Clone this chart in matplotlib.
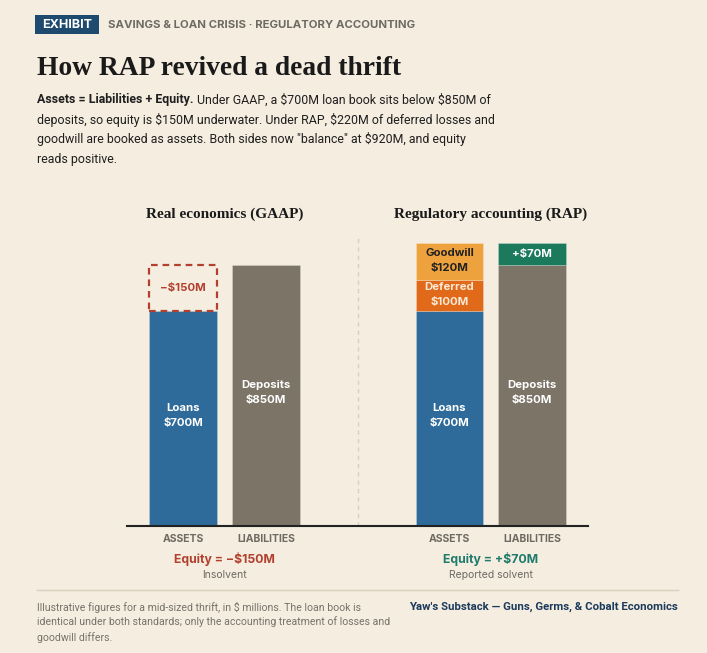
import matplotlib
matplotlib.use("Agg")
import matplotlib.pyplot as plt
from matplotlib.patches import Rectangle

# ---------------- data ----------------
panels = ["Real economics (GAAP)", "Regulatory accounting (RAP)"]
categories = ["ASSETS", "LIABILITIES"]
loans = [700, 700]          # GAAP, RAP
deposits = [850, 850]
deferred_rap = 100
goodwill_rap = 120
equity_values = [-150, 70]
equity_notes = ["Insolvent", "Reported solvent"]

W, H = 707, 653
BG = "#f4ede0"
BLUE = "#2e6b9a"
GRAY = "#7b7467"
ORANGE = "#e06a1a"
GOLD = "#eea23d"
GREEN = "#1b7a5c"
RED = "#b3402e"
SANS = ["Inter", "DejaVu Sans"]
ROBO = ["Roboto", "DejaVu Sans"]
SERIF = ["Liberation Serif", "DejaVu Serif"]

fig = plt.figure(figsize=(W / 100, H / 100), dpi=100, facecolor=BG)

def fx(px):
    return px / W

def fy(py):
    return 1 - py / H

def ftext(x, y, s, **kw):
    return fig.text(fx(x), fy(y), s, parse_math=False, **kw)

# ---------------- header ----------------
fig.patches.append(Rectangle((fx(35), fy(34)), fx(99) - fx(35), fy(15) - fy(34),
                             transform=fig.transFigure, facecolor="#1d4a6e", edgecolor="none"))
ftext(67, 24.5, "EXHIBIT", color="white", fontsize=9, fontweight="bold",
      family=SANS, ha="center", va="center")
ftext(108, 24.5, "SAVINGS & LOAN CRISIS · REGULATORY ACCOUNTING", color="#6e6a62",
      fontsize=8.2, fontweight="bold", family=SANS, ha="left", va="center")
ftext(37, 75, "How RAP revived a dead thrift", color="#1a1a1a", fontsize=19.8,
      fontweight="bold", family=SERIF, ha="left", va="baseline")

sub_lines = [
    "Under GAAP, a $700M loan book sits below $850M of",
    "deposits, so equity is $150M underwater. Under RAP, $220M of deferred losses and",
    "goodwill are booked as assets. Both sides now \"balance\" at $920M, and equity",
    "reads positive.",
]
sub_y = [100, 120, 139.5, 159]
SUBFS = 8.9
bold = ftext(37, sub_y[0], "Assets = Liabilities + Equity.", color="#1f1f1f",
             fontsize=SUBFS, fontweight="bold", family=ROBO, ha="left", va="center")
fig.canvas.draw()
bb = bold.get_window_extent()
ftext(bb.x1 + 3.5, sub_y[0], sub_lines[0], color="#1f1f1f", fontsize=SUBFS,
      family=ROBO, ha="left", va="center")
for line, y in zip(sub_lines[1:], sub_y[1:]):
    ftext(37, y, line, color="#1f1f1f", fontsize=SUBFS, family=ROBO, ha="left", va="center")

# ---------------- chart ----------------
ax = fig.add_axes([fx(127), fy(526), fx(588) - fx(127), fy(236) - fy(526)])
ax.set_facecolor("none")
pos = [[0, 1], [3.22, 4.22]]
bw = 0.82
ax.set_xlim(-0.679, 4.895)
ax.set_ylim(0, 944)

edge = dict(edgecolor="#ffffff40", linewidth=0.6)
# GAAP
ax.bar(pos[0][0], loans[0], bw, color=BLUE, **edge)
ax.bar(pos[0][1], deposits[0], bw, color=GRAY, **edge)
gap = deposits[0] - loans[0]
ax.add_patch(Rectangle((pos[0][0] - bw / 2, loans[0]), bw, gap, facecolor="none",
                       edgecolor=RED, linewidth=1.6, linestyle=(0, (3, 2.2))))
# RAP
ax.bar(pos[1][0], loans[1], bw, color=BLUE, **edge)
ax.bar(pos[1][0], deferred_rap, bw, bottom=loans[1], color=ORANGE, **edge)
ax.bar(pos[1][0], goodwill_rap, bw, bottom=loans[1] + deferred_rap, color=GOLD, **edge)
ax.bar(pos[1][1], deposits[1], bw, color=GRAY, **edge)
ax.bar(pos[1][1], equity_values[1], bw, bottom=deposits[1], color=GREEN, **edge)

def seg_label(x, y0, h, l1, l2, color, dy=0):
    yc = y0 + h / 2
    for s, off in ((l1, 7.5), (l2, -7.5)):
        ax.annotate(s, (x, yc), xytext=(0, off + dy), textcoords="offset pixels", ha="center",
                    va="center", color=color, fontsize=8.2, fontweight="bold", family=SANS,
                    parse_math=False)

for p in range(2):
    seg_label(pos[p][0], 0, loans[p], "Loans", f"${loans[p]}M", "white", dy=3)
    seg_label(pos[p][1], 0, deposits[p], "Deposits", f"${deposits[p]}M", "white", dy=3)
seg_label(pos[1][0], loans[1], deferred_rap, "Deferred", f"${deferred_rap}M", "#fbe9d6", dy=1)
seg_label(pos[1][0], loans[1] + deferred_rap, goodwill_rap, "Goodwill", f"${goodwill_rap}M",
          "#222222", dy=1)
ax.text(pos[1][1], deposits[1] + equity_values[1] / 2, f"+${equity_values[1]}M", ha="center",
        va="center", color="white", fontsize=8.2, fontweight="bold", family=SANS,
        parse_math=False)
ax.text(pos[0][0], loans[0] + gap / 2, f"\u2212${abs(equity_values[0])}M", ha="center",
        va="center", color=RED, fontsize=8.2, fontweight="bold", family=SANS, parse_math=False)

# divider
ax.plot([2.11, 2.11], [0, 938], color="#d9d0c0", linewidth=1, linestyle=(0, (3, 3)))

for s in ["top", "right", "left"]:
    ax.spines[s].set_visible(False)
ax.spines["bottom"].set_color("#222222")
ax.spines["bottom"].set_linewidth(1.5)
ax.set_yticks([])
ax.set_xticks(pos[0] + pos[1])
ax.set_xticklabels(categories * 2, fontsize=7.5, fontweight="bold", color="#6e6a62",
                   family=SANS)
ax.tick_params(axis="x", length=0, pad=6)

centers = [0.5, 3.72]
eq_colors = [RED, "#1e7a6a"]
for i in range(2):
    ax.annotate(panels[i], (centers[i], fy(214)), xycoords=("data", "figure fraction"),
                ha="center", va="center", fontsize=11, fontweight="bold", family=SERIF,
                color="#1a1a1a")
    v = equity_values[i]
    sign = "\u2212" if v < 0 else "+"
    ax.annotate(f"Equity = {sign}${abs(v)}M", (centers[i], fy(559)),
                xycoords=("data", "figure fraction"), ha="center", va="center",
                fontsize=8.8, fontweight="bold", family=SANS, color=eq_colors[i],
                parse_math=False)
    ax.annotate(equity_notes[i], (centers[i], fy(574.5)), xycoords=("data", "figure fraction"),
                ha="center", va="center", fontsize=7.5, family=SANS, color="#6e6a62")

# ---------------- footer ----------------
fig.add_artist(plt.Line2D([fx(37), fx(678)], [fy(590), fy(590)], transform=fig.transFigure,
                          color="#d8cfbd", linewidth=1))
foot = [
    "Illustrative figures for a mid-sized thrift, in $ millions. The loan book is",
    "identical under both standards; only the accounting treatment of losses and",
    "goodwill differs.",
]
for line, y in zip(foot, [607, 622, 637.5]):
    ftext(37, y, line, fontsize=7.6, family=ROBO, color="#77726a", ha="left", va="center")
ftext(678, 607, "Yaw's Substack \u2014 Guns, Germs, & Cobalt Economics", fontsize=8.2,
      family=ROBO, fontweight="bold", color="#1b3a5c", ha="right", va="center")

fig.savefig("out.png", dpi=100, facecolor=BG)
